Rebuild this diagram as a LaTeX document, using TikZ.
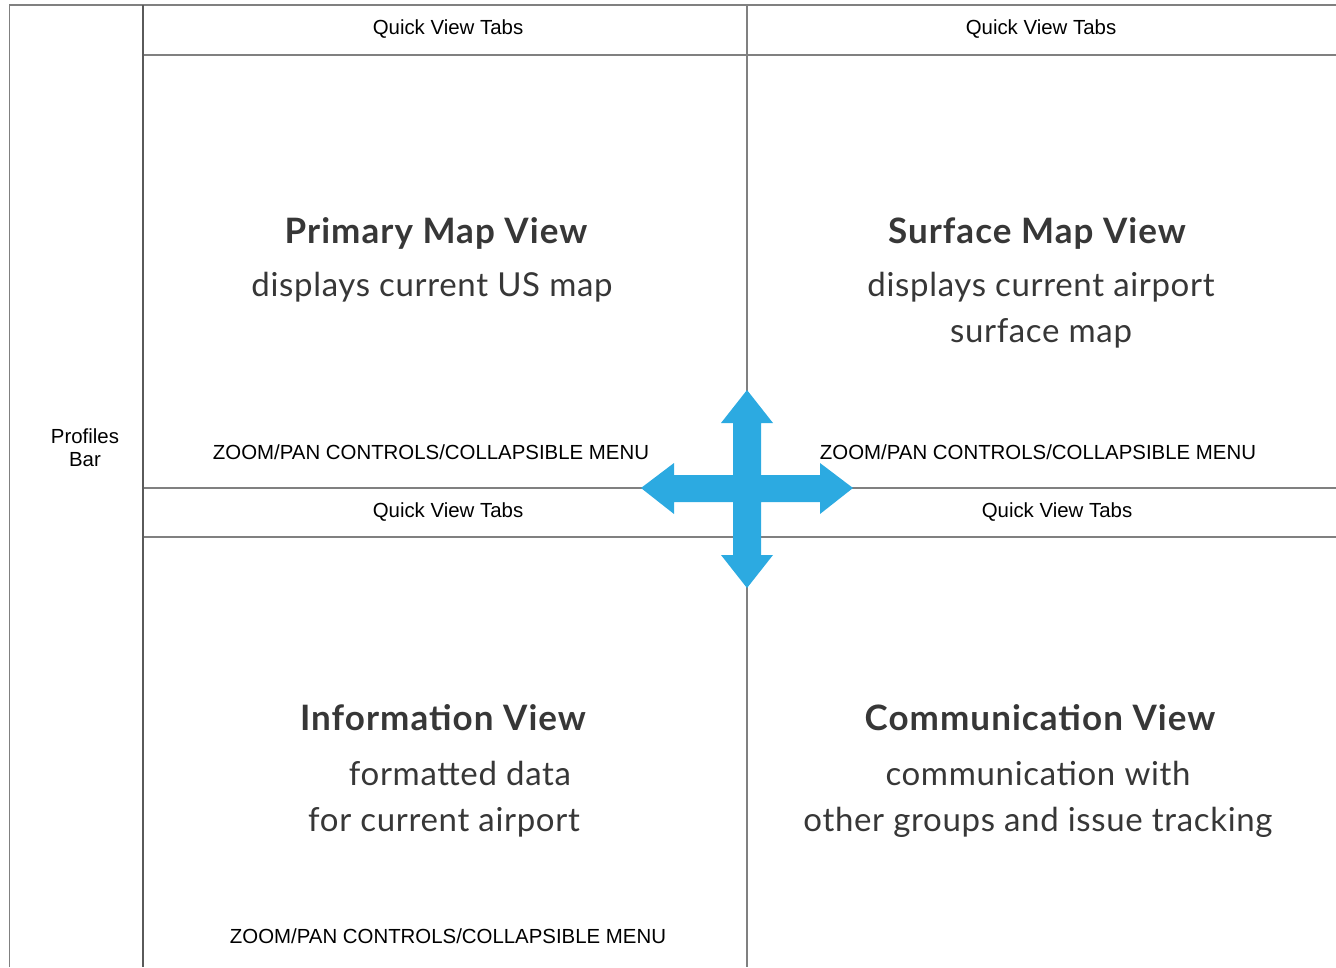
\documentclass[tikz,border=0pt]{standalone}
\usepackage{fontspec}
\usepackage{tikz}
\usetikzlibrary{positioning}
\usepackage{xcolor}
\newfontfamily\labelfont{Liberation Sans}
\newfontfamily\viewfont[LetterSpace=2]{Lato}
\newfontfamily\viewboldfont[LetterSpace=3]{Lato}
\definecolor{gridgray}{RGB}{128,128,128}
\definecolor{bargray}{RGB}{90,90,90}
\definecolor{viewgray}{RGB}{55,55,55}
\definecolor{panblue}{RGB}{44,170,225}
\tikzstyle{frameline} = [line width=1.4pt,color=gridgray]
\tikzstyle{barline} = [line width=1.8pt,color=bargray]
\tikzstyle{tabs} = [inner sep=0pt,font=\labelfont\fontsize{20.4}{24}\selectfont]
\tikzstyle{viewtitle} = [inner sep=0pt,anchor=base,text=viewgray,font=\viewboldfont\bfseries\fontsize{35}{40}\selectfont]
\tikzstyle{viewtext} = [inner sep=0pt,anchor=base,align=center,text=viewgray,font=\viewfont\fontsize{33}{46}\selectfont]

\begin{document}
\begin{tikzpicture}[x=1pt, y=-1pt]
\useasboundingbox (0,0) rectangle (1336,967);
% Frame of the screen
\draw[frameline] (9.5,967) -- (9.5,5) -- (1336,5);
\draw[frameline] (143,55) -- (1336,55);
\draw[frameline] (143,488) -- (1336,488);
\draw[frameline] (143,537) -- (1336,537);
\draw[frameline] (747,5) -- (747,967);
\draw[barline] (143,5) -- (143,967);

% Profiles bar
\node[tabs, align=center] (profiles) at (85,448) {Profiles\\[-1pt]Bar};

% Quick view tabs
\node[tabs] (tabsA) at (448,29.5) {Quick View Tabs};
\node[tabs] (tabsB) at (1041,29.5) {Quick View Tabs};
\node[tabs] (tabsC) at (448,512.5) {Quick View Tabs};
\node[tabs] (tabsD) at (1057,512.5) {Quick View Tabs};

% Zoom controls
\node[tabs] (zoomA) at (431,452) {ZOOM/PAN CONTROLS/COLLAPSIBLE MENU};
\node[tabs] (zoomB) at (1038,452) {ZOOM/PAN CONTROLS/COLLAPSIBLE MENU};
\node[tabs] (zoomC) at (448,936) {ZOOM/PAN CONTROLS/COLLAPSIBLE MENU};

% Four views (base = last line)
\node[viewtitle] (primary) at (436,243) {Primary Map View};
\node[viewtext] (primarytxt) at (432,296) {displays current US map};
\node[viewtitle] (surface) at (1037,243) {Surface Map View};
\node[viewtext] (surfacetxt) at (1041,342) {displays current airport\\surface map};
\node[viewtitle] (info) at (443,730) {Information View};
\node[viewtext] (infotxt) at (444,831) {\hspace*{32pt}formatted data\\for current airport};
\node[viewtitle] (comm) at (1040,730) {Communication View};
\node[viewtext] (commtxt) at (1038,831) {communication with\\other groups and issue tracking};

% Pan arrow
\fill[panblue] (747,390) -- (773,423) -- (761,423) -- (761,475) -- (820,475) -- (820,463)
  -- (853,488) -- (820,514) -- (820,502) -- (761,502) -- (761,555) -- (773,555)
  -- (747,588) -- (721,555) -- (733,555) -- (733,502) -- (674,502) -- (674,514)
  -- (641,488) -- (674,463) -- (674,475) -- (733,475) -- (733,423) -- (721,423) -- cycle;
\end{tikzpicture}
\end{document}
